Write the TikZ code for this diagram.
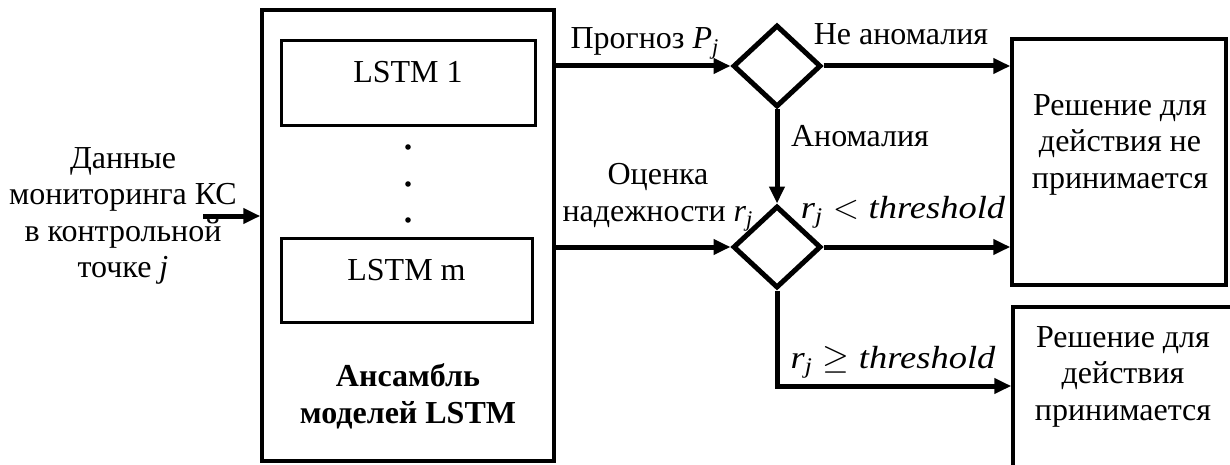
\documentclass[tikz,border=0pt]{standalone}
\usepackage{fontspec}
\setmainfont{Liberation Serif}
\newfontfamily\mifont{Liberation Serif}[FakeStretch=1.14]
\usetikzlibrary{shapes.geometric,arrows.meta}
\newcommand\fs{\fontsize{16pt}{18.25pt}\selectfont}
\newcommand\mv[1]{{\mifont\itshape #1}}
\newcommand\subj{\textsubscript{\textit{j}}}
\newcommand\msubj{\textsubscript{\mv{j}}}
\newcommand\rel[1]{\hspace{0.3em}$#1$\hspace{0.3em}}
\begin{document}
\begin{tikzpicture}[x=0.5pt,y=-0.5pt,
  every node/.style={font=\fs},
  txt/.style={anchor=base, align=center, inner sep=0pt},
  frame/.style={draw, line width=1.75pt, inner sep=0pt},
  lstm/.style={draw, line width=1.5pt, inner sep=0pt, text height=5pt, text depth=5pt},
  dec/.style={diamond, draw, line width=2.5pt, inner sep=0pt, minimum width=44pt, minimum height=41pt},
  flow/.style={line width=2.5pt, -{Triangle[length=8.5pt,width=7.5pt]}},
  dot/.style={circle, fill, inner sep=0pt, minimum size=2.8pt}]
\useasboundingbox (0,0) rectangle (1230,465);
\clip (0,0) rectangle (1230,465);

% ensemble of models
\node[frame, minimum width=146pt, minimum height=225.5pt] (ens) at (408,235.5) {};
\node[lstm, minimum width=127pt, minimum height=42pt] (m1) at (408,83) {LSTM 1};
\node[lstm, minimum width=125.5pt, minimum height=42pt] (mm) at (406.5,280) {LSTM m};
\node[dot] (p1) at (408,147) {};
\node[dot] (p2) at (408,184) {};
\node[dot] (p3) at (408,220) {};
% multi-line nodes are placed by the baseline of their last line
\node[txt, font=\fs\bfseries] (enst) at (408,423) {Ансамбль\\моделей LSTM};

% input data
\node[txt] (inp) at (123,277.5) {Данные\\мониторинга КС\\в контрольной\\точке \textit{j}};
\coordinate (src) at (203,216);
\draw[flow] (src) -- (src -| ens.west);

% decisions
\node[dec] (d1) at (777,66) {};
\node[dec] (d2) at (777,247) {};

% outcome boxes
\node[frame, minimum width=107pt, minimum height=123pt] (b1) at (1119,162) {};
\node[frame, minimum width=110.5pt, minimum height=116.5pt] (b2) at (1123.5,423.5) {};
\node[txt] (b1t) at (1120,188) {Решение для\\действия не\\принимается};
\node[txt] (b2t) at (1123,420) {Решение для\\действия\\принимается};

% connectors
\draw[flow] (ens.east |- d1.west) -- (d1.west);
\draw[flow] (d1.east) -- (d1.east -| b1.west);
\draw[flow] (d1.south) -- (d2.north);
\draw[flow] (ens.east |- d2.west) -- (d2.west);
\draw[flow] (d2.east) -- (d2.east -| b1.west);
\coordinate (in2) at (b2.west |- 0,386);
\draw[flow] (d2.south) |- (in2);

% connector labels
\node[txt] (lp) at (645,49) {Прогноз \textit{P}\subj};
\node[txt] (lna) at (901,45) {Не аномалия};
\node[txt] (la) at (860,146) {Аномалия};
\node[txt] (lr) at (658,221) {Оценка\\надежности \textit{r}\subj};
\node[txt] (llt) at (903,218) {\mv{r}\msubj\rel{<}\mv{threshold}};
\node[txt] (lge) at (893,368) {\mv{r}\msubj\rel{\geq}\mv{threshold}};
\end{tikzpicture}
\end{document}
